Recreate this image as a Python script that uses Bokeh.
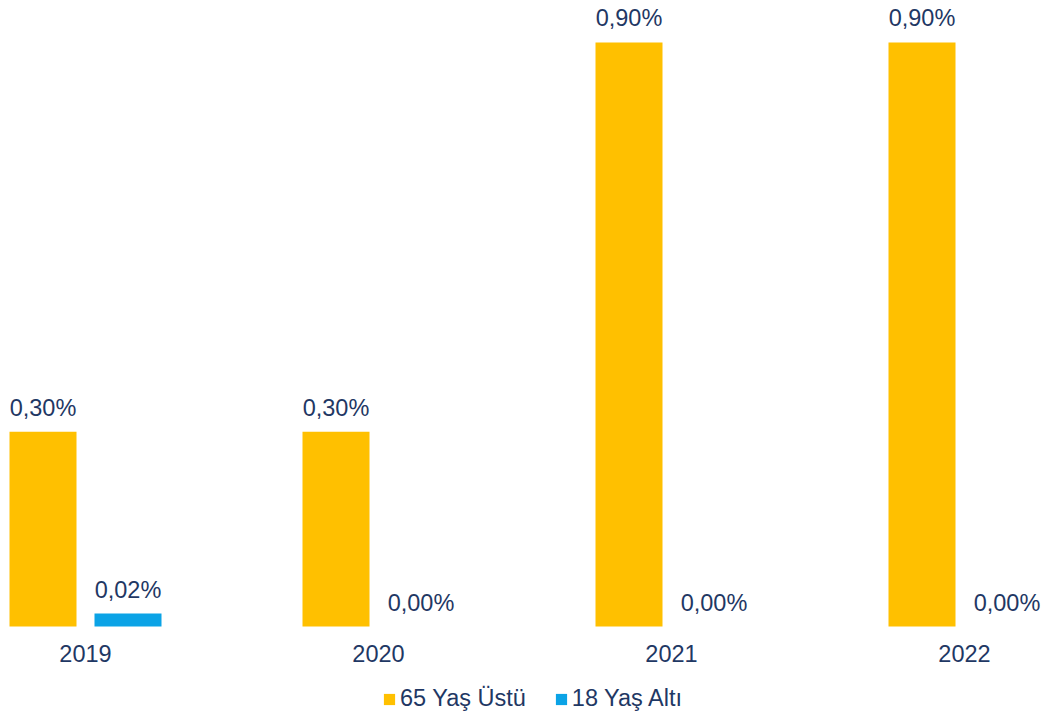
from bokeh.plotting import figure
from bokeh.models import Range1d, ColumnDataSource, Legend, LegendItem, FixedTicker
from bokeh.core.properties import value
from bokeh.embed import file_html
from bokeh.resources import INLINE

# ---- data ----
years = ["2019", "2020", "2021", "2022"]
over65 = [0.30, 0.30, 0.90, 0.90]
under18 = [0.02, 0.00, 0.00, 0.00]
series_names = ["65 Yaş Üstü", "18 Yaş Altı"]

# ---- style ----
NAVY = "#1F3864"
GOLD = "#FFC000"
BLUE = "#0BA3E6"
FONT = "Liberation Sans"
FS = "23.5px"

W, H = 1042, 712
UNIT = 293.0          # px per category
FIRST = 85.0         # px of first category centre
BASE = 626.0         # px of the zero line from the top
YSCALE = 648.9       # px per 1 %

idx = list(range(len(years)))
off = 42.5 / UNIT
bw = 67.0 / UNIT


def fmt(v):
    return f"{v:.2f}".replace(".", ",") + "%"


src65 = ColumnDataSource(dict(x=[i - off for i in idx], top=over65,
                              label=[fmt(v) for v in over65]))
src18 = ColumnDataSource(dict(x=[i + off for i in idx], top=under18,
                              label=[fmt(v) for v in under18]))

p = figure(frame_width=W, frame_height=H,
           x_range=Range1d(-FIRST / UNIT, (W - FIRST) / UNIT),
           y_range=Range1d(-(H - BASE) / YSCALE, BASE / YSCALE),
           output_backend="svg", toolbar_location=None,
           y_axis_location=None, min_border=0)

r65 = p.vbar(x="x", top="top", width=bw, source=src65,
             fill_color=GOLD, line_color=None)
r18 = p.vbar(x="x", top="top", width=bw, source=src18,
             fill_color=BLUE, line_color=None)

for s in (src65, src18):
    p.text(x="x", y="top", text="label", source=s, text_align="center",
           text_baseline="alphabetic", y_offset=-24,
           text_font=value(FONT), text_font_size=FS, text_color=NAVY)

p.xaxis.fixed_location = 0
p.xaxis.ticker = FixedTicker(ticks=idx)
p.xaxis.major_label_overrides = {i: y for i, y in zip(idx, years)}
p.xaxis.major_label_standoff = 18
p.xaxis.major_tick_out = 0
p.xaxis.major_tick_in = 0
p.xaxis.minor_tick_out = 0
p.xaxis.minor_tick_in = 0
p.xaxis.axis_line_color = None
p.xaxis.major_label_text_font = FONT
p.xaxis.major_label_text_font_size = FS
p.xaxis.major_label_text_color = NAVY

p.xgrid.visible = False
p.ygrid.visible = False
p.outline_line_color = None
p.background_fill_color = "white"
p.border_fill_color = "white"

legend = Legend(items=[LegendItem(label=series_names[0], renderers=[r65]),
                       LegendItem(label=series_names[1], renderers=[r18])],
                orientation="horizontal", location=(382, 0),
                glyph_width=14, glyph_height=14, label_standoff=4, spacing=28,
                padding=0, margin=0, border_line_color=None,
                background_fill_alpha=0,
                label_text_font=FONT, label_text_font_size=FS,
                label_text_color=NAVY)
p.add_layout(legend)

open("out.html", "w").write(file_html(p, INLINE))
